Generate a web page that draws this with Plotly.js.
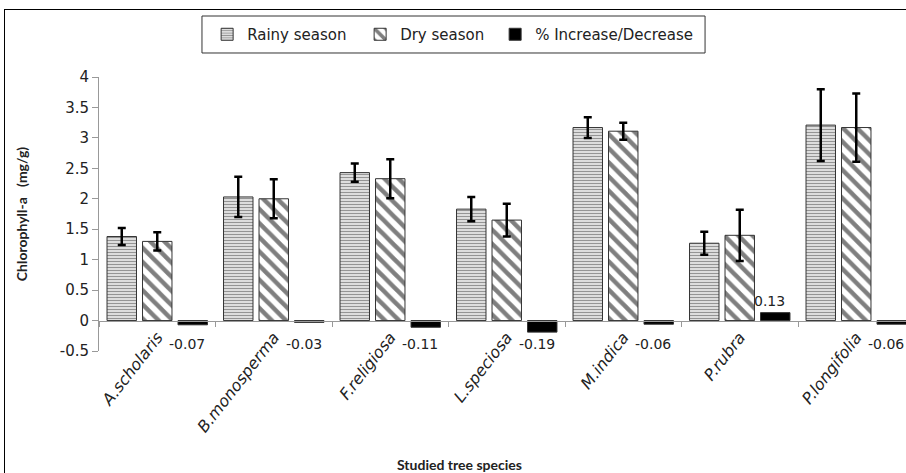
<!DOCTYPE html>
<html>
<head>
<meta charset="utf-8">
<script src="https://cdn.plot.ly/plotly-3.0.1.min.js"></script>
<style>
html,body{margin:0;padding:0;background:#fff;}
#wrap{position:relative;width:906px;height:473px;overflow:hidden;}
#chart{position:absolute;left:0;top:0;width:906px;height:473px;}
#frame{position:absolute;left:4px;top:9px;width:1000px;height:1000px;border:1.5px solid #000;pointer-events:none;}
</style>
</head>
<body>
<div id="wrap"><div id="chart"></div><div id="frame"></div></div>
<script>
const species = ["A.scholaris","B.monosperma","F.religiosa","L.speciosa","M.indica","P.rubra","P.longifolia"];
const rainy = [1.38, 2.03, 2.43, 1.83, 3.17, 1.27, 3.21];
const rainyErr = [0.14, 0.33, 0.15, 0.20, 0.17, 0.19, 0.59];
const dry = [1.30, 2.00, 2.33, 1.65, 3.11, 1.40, 3.17];
const dryErr = [0.15, 0.32, 0.32, 0.27, 0.14, 0.42, 0.56];
const change = [-0.07, -0.03, -0.11, -0.19, -0.06, 0.13, -0.06];
const changeLabels = ["-0.07","-0.03","-0.11","-0.19","-0.06","0.13","-0.06"];
const yTicks = [-0.5,0,0.5,1,1.5,2,2.5,3,3.5,4];
const yTickLabels = ["-0.5","0","0.5","1","1.5","2","2.5","3","3.5","4"];

const FONT = "'DejaVu Sans', sans-serif";

const traces = [
  {type:'bar', name:'Rainy season', x:species, y:rainy, legendwidth:108,
   error_y:{type:'data', array:rainyErr, visible:true, color:'#000', thickness:2.5, width:4},
   marker:{color:'#fff', line:{color:'#333', width:1},
     pattern:{shape:'-', size:3, solidity:0.55, fgcolor:'#2a2a2a', bgcolor:'#fff', fillmode:'overlay'}}},
  {type:'bar', name:'Dry season', x:species, y:dry, legendwidth:90,
   error_y:{type:'data', array:dryErr, visible:true, color:'#000', thickness:2.5, width:4},
   marker:{color:'#fff', line:{color:'#333', width:1},
     pattern:{shape:'\\', size:10, solidity:0.45, fgcolor:'#000', bgcolor:'#fff', fillmode:'overlay'}}},
  {type:'bar', name:'% Increase/Decrease', x:species, y:change, legendwidth:170,
   marker:{color:'#000', line:{color:'#333', width:1}}}
];

const annotations = species.map((s,i)=>{
  const pos = change[i] >= 0;
  return {x:s, y: pos ? change[i] : -0.5, xref:'x', yref:'y', text:changeLabels[i],
    showarrow:false, xshift:30, yshift: pos ? 2 : 7, yanchor: pos ? 'bottom' : 'middle',
    font:{family:FONT, size:14, color:'#222'}};
});
annotations.push({text:'<b>Studied tree species</b>', xref:'paper', yref:'paper', x:0.447, y:-0.416,
  showarrow:false, xanchor:'center', yanchor:'middle', font:{family:"Lato, sans-serif", size:14, color:'#222'}});

const layout = {
  width:906, height:473,
  margin:{l:99, r:0, t:77, b:122},
  paper_bgcolor:'#fff', plot_bgcolor:'#fff',
  barmode:'group', bargap:0.086, bargroupgap:0.17,
  font:{family:FONT, size:14, color:'#222'},
  showlegend:true,
  legend:{orientation:'h', x:0.134, xanchor:'left', y:1.155, yanchor:'middle',
    borderwidth:0, bgcolor:'rgba(0,0,0,0)', itemwidth:30,
    font:{family:FONT, size:15, color:'#222'}},
  shapes:[{type:'rect', xref:'paper', yref:'paper', x0:0.1276, x1:0.751, y0:1.0876, y1:1.2226,
    line:{color:'#333', width:1}, fillcolor:'rgba(0,0,0,0)', layer:'above'}],
  xaxis:{type:'category', range:[-0.5, 6.427], anchor:'free', position:0.5/4.5,
    showline:true, linecolor:'#999', linewidth:1, ticks:'outside', tickson:'boundaries',
    ticklen:5, tickcolor:'#999', tickangle:-52, showgrid:false, zeroline:false,
    tickfont:{family:FONT, size:16, color:'#222', style:'italic'}},
  yaxis:{range:[-0.5,4], tickvals:yTicks, ticktext:yTickLabels, showline:true, linecolor:'#999',
    linewidth:1, ticks:'outside', ticklen:6, tickcolor:'#999', showgrid:false, zeroline:false,
    tickfont:{family:FONT, size:15, color:'#222'},
    title:{text:'<b>Chlorophyll-a   (mg/g)</b>', font:{family:"Lato, sans-serif", size:14, color:'#222'}, standoff:28}},
  annotations:annotations
};

Plotly.newPlot('chart', traces, layout, {displayModeBar:false, staticPlot:true});
</script>
</body>
</html>
